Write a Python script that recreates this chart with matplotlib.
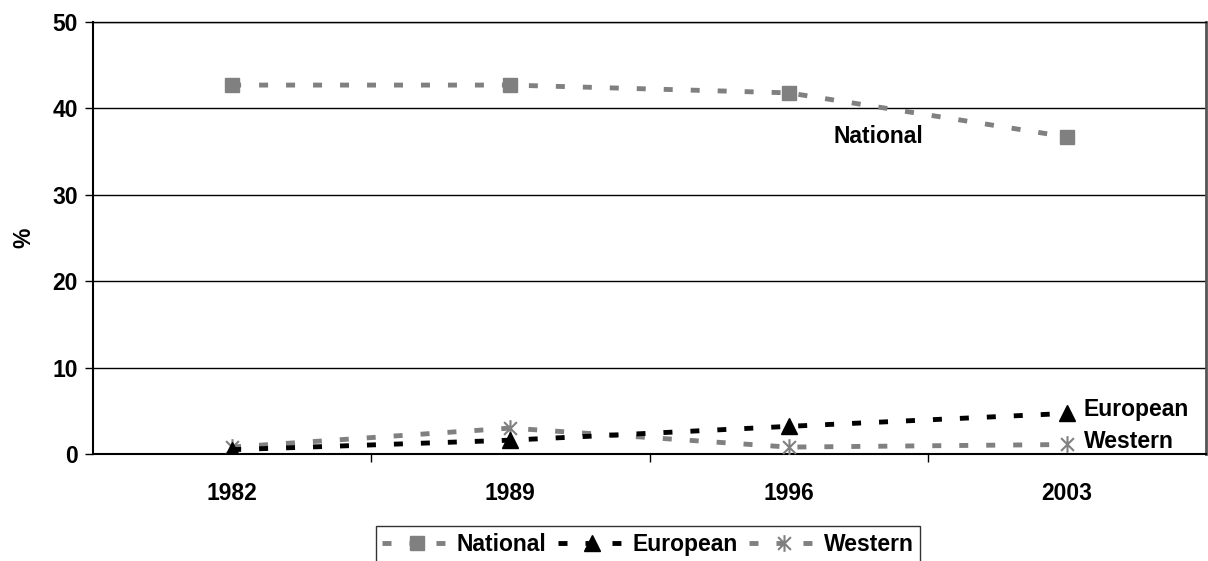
"""
Share of responses by level of identification, 1982-2003
"""

import numpy as np
import matplotlib.pyplot as plt
from matplotlib.path import Path

plt.rcParams['font.family'] = ['Liberation Sans', 'DejaVu Sans']
plt.rcParams['font.weight'] = 'bold'

# %% Data
years = ['1982', '1989', '1996', '2003']
national = [42.7, 42.7, 41.8, 36.7]
european = [0.5, 1.6, 3.2, 4.7]
western = [0.8, 3.0, 0.8, 1.1]

grey = '#808080'
fs = 16.5

# Excel-style star marker: an X with a vertical stroke
star = Path([(-1, -1), (1, 1), (-1, 1), (1, -1), (0, -1.3), (0, 1.3)],
            [Path.MOVETO, Path.LINETO, Path.MOVETO, Path.LINETO,
             Path.MOVETO, Path.LINETO])

# %% Plot
fig = plt.figure(figsize=(12.08, 5.61), dpi=100)
ax = fig.add_axes([93 / 1208, 1 - 454 / 561, 1113 / 1208, 432 / 561])

x = np.arange(len(years))
dash = (1.85, 3.7)

ax.plot(x, national, color=grey, lw=3.5, dashes=dash, marker='s', ms=10,
        mfc=grey, mec=grey, label='National', zorder=3)
ax.plot(x, european, color='black', lw=3.5, dashes=dash, marker='^', ms=11,
        mfc='black', mec='black', label='European', zorder=4)
ax.plot(x, western, color=grey, lw=3.5, dashes=dash, marker=star, ms=12,
        mew=1.5, mfc='none', mec=grey, label='Western', zorder=3)

ax.set_xlim(-0.5, len(years) - 0.5)
ax.set_ylim(0, 50)
ax.set_yticks(np.arange(0, 51, 10))
ax.yaxis.grid(True, color='black', lw=1)
ax.set_axisbelow(True)

ax.set_xticks(x)
ax.set_xticklabels(years)
ax.set_xticks(np.arange(0.5, len(years) - 0.5, 1), minor=True)
ax.tick_params(axis='x', which='major', length=0, pad=20, labelsize=fs)
ax.tick_params(axis='x', which='minor', length=6, width=1, direction='out')
ax.tick_params(axis='y', length=6, width=1, labelsize=fs, pad=5)

for s in ax.spines.values():
    s.set_color('black')
    s.set_linewidth(1)
ax.spines['left'].set_linewidth(1.5)
ax.spines['bottom'].set_linewidth(1.5)
ax.spines['right'].set_color('#555555')
ax.spines['right'].set_linewidth(2)

ax.set_ylabel('%', fontsize=fs, fontweight='bold', labelpad=12)

# direct labels
ax.text(2.16, 36.7, 'National', fontsize=fs, fontweight='bold', va='center')
ax.text(3.06, 5.2, 'European', fontsize=fs, fontweight='bold', va='center')
ax.text(3.06, 1.5, 'Western', fontsize=fs, fontweight='bold', va='center')

leg = fig.legend(loc='upper center', bbox_to_anchor=(648 / 1208, 1 - 526 / 561),
                 ncol=3, fontsize=fs, frameon=True, fancybox=False,
                 edgecolor='black', handlelength=3.0, handletextpad=0.25,
                 columnspacing=0.5, borderpad=0.3, borderaxespad=0)
leg.get_frame().set_linewidth(1)

plt.savefig('out.png', dpi=100)
